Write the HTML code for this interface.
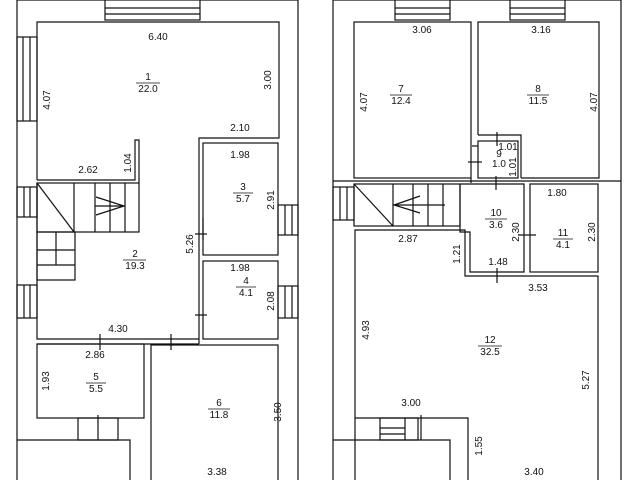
<!DOCTYPE html>
<html><head><meta charset="utf-8"><style>
html,body{margin:0;padding:0;background:#fff}
svg{display:block}
text{font-family:"Liberation Sans",sans-serif;font-size:10px;fill:#111}
</style></head><body>
<svg width="640" height="480" viewBox="0 0 640 480" xmlns="http://www.w3.org/2000/svg">
<g fill="none" stroke="#111" stroke-width="1.2">
<!-- LEFT PLAN -->
<polyline points="17,480 17,0"/>
<polyline points="298,0 298,480"/>
<line x1="17" y1="0" x2="105" y2="0"/>
<line x1="200" y1="0" x2="298" y2="0"/>
<rect x="105" y="0" width="95" height="20"/>
<line x1="105" y1="8" x2="200" y2="8"/><line x1="105" y1="14" x2="200" y2="14"/>
<rect x="17" y="37" width="20" height="84"/>
<line x1="23" y1="37" x2="23" y2="121"/><line x1="30" y1="37" x2="30" y2="121"/>
<polyline points="37,180 37,22 279,22 279,138 199,138 199,300"/>
<polyline points="37,180 135,180 135,140 139,140 139,183"/>
<rect x="203" y="143" width="75" height="112"/>
<rect x="203" y="261" width="75" height="78"/>
<rect x="278" y="205" width="20" height="30"/><line x1="285" y1="205" x2="285" y2="235"/><line x1="292" y1="205" x2="292" y2="235"/>
<rect x="278" y="286" width="20" height="32"/><line x1="285" y1="286" x2="285" y2="318"/><line x1="292" y1="286" x2="292" y2="318"/>
<polyline points="37,183 37,339 199,339"/>
<line x1="37" y1="344" x2="199" y2="344"/>
<line x1="199" y1="300" x2="199" y2="344"/>
<rect x="37" y="183" width="102" height="49"/>
<line x1="37" y1="183" x2="74" y2="232"/>
<line x1="74" y1="183" x2="74" y2="232"/><line x1="95" y1="183" x2="95" y2="232"/><line x1="110" y1="183" x2="110" y2="232"/><line x1="125" y1="183" x2="125" y2="232"/>
<polyline points="96,197 124,206 96,215"/><line x1="95" y1="206" x2="124" y2="206"/>
<rect x="37" y="232" width="38" height="48"/>
<line x1="37" y1="250" x2="75" y2="250"/><line x1="37" y1="265" x2="75" y2="265"/><line x1="56" y1="232" x2="56" y2="265"/>
<rect x="17" y="187" width="20" height="30"/><line x1="24" y1="187" x2="24" y2="217"/><line x1="30" y1="187" x2="30" y2="217"/>
<rect x="17" y="285" width="20" height="33"/><line x1="24" y1="285" x2="24" y2="318"/><line x1="30" y1="285" x2="30" y2="318"/>
<rect x="37" y="344" width="107" height="74"/>
<rect x="151" y="345" width="127" height="140"/>
<rect x="78" y="418" width="40" height="22"/>
<polyline points="17,440 130,440 130,480"/>
<line x1="100" y1="334" x2="100" y2="350"/><line x1="171" y1="334" x2="171" y2="350"/>
<line x1="195" y1="315" x2="207" y2="315"/><line x1="203" y1="218" x2="203" y2="240"/><line x1="195" y1="234" x2="207" y2="234"/>
<line x1="98" y1="415" x2="98" y2="440"/>

<!-- RIGHT PLAN -->
<line x1="333" y1="0" x2="333" y2="480"/>
<line x1="621" y1="0" x2="621" y2="480"/>
<line x1="333" y1="0" x2="395" y2="0"/><line x1="450" y1="0" x2="510" y2="0"/><line x1="565" y1="0" x2="621" y2="0"/>
<rect x="395" y="0" width="55" height="20"/><line x1="395" y1="8" x2="450" y2="8"/><line x1="395" y1="14" x2="450" y2="14"/>
<rect x="510" y="0" width="55" height="20"/><line x1="510" y1="8" x2="565" y2="8"/><line x1="510" y1="14" x2="565" y2="14"/>
<rect x="354" y="22" width="117" height="156"/>
<polyline points="478,135 478,22 599,22 599,178 521,178"/>
<polyline points="478,135 521,135 521,178"/>
<rect x="478" y="141" width="40" height="37"/>
<line x1="472" y1="146" x2="478" y2="146"/><line x1="471" y1="178" x2="471" y2="183"/>
<line x1="333" y1="181" x2="621" y2="181"/>
<rect x="354" y="184" width="106" height="42"/>
<line x1="354" y1="184" x2="393" y2="226"/>
<line x1="393" y1="184" x2="393" y2="226"/><line x1="413" y1="184" x2="413" y2="226"/><line x1="428" y1="184" x2="428" y2="226"/><line x1="443" y1="184" x2="443" y2="226"/>
<polyline points="420,196 394,205 420,213"/><line x1="394" y1="205" x2="445" y2="205"/>
<rect x="333" y="187" width="21" height="33"/><line x1="340" y1="187" x2="340" y2="220"/><line x1="347" y1="187" x2="347" y2="220"/>
<polyline points="460,184 524,184 524,272 470,272 470,232 460,232 460,184"/>
<rect x="530" y="184" width="68" height="88"/>
<polyline points="355,480 355,230 465,230 465,276 598,276 598,480"/>
<polyline points="355,418 468,418 468,480"/>
<rect x="380" y="418" width="38" height="22"/><line x1="380" y1="428" x2="405" y2="428"/><line x1="380" y1="434" x2="405" y2="434"/><line x1="405" y1="418" x2="405" y2="440"/>
<polyline points="333,440 450,440 450,480"/>
<line x1="496" y1="176" x2="496" y2="190"/><line x1="497" y1="268" x2="497" y2="283"/>
<line x1="468" y1="162" x2="482" y2="162"/><line x1="497" y1="132" x2="497" y2="146"/>
<line x1="518" y1="235" x2="536" y2="235"/><line x1="421" y1="415" x2="421" y2="440"/>
</g>
<g text-anchor="middle">
<text x="158" y="40">6.40</text>
<text x="148" y="80">1</text><text x="148" y="92">22.0</text><line x1="136" y1="83" x2="160" y2="83" stroke="#111" stroke-width="0.8"/>
<text x="240" y="131">2.10</text><text x="88" y="173">2.62</text>
<text x="240" y="158">1.98</text>
<text x="243" y="190">3</text><text x="243" y="202">5.7</text><line x1="233" y1="193" x2="253" y2="193" stroke="#111" stroke-width="0.8"/>
<text x="135" y="257">2</text><text x="135" y="269">19.3</text><line x1="123" y1="260" x2="146" y2="260" stroke="#111" stroke-width="0.8"/>
<text x="240" y="271">1.98</text>
<text x="246" y="284">4</text><text x="246" y="296">4.1</text><line x1="236" y1="287" x2="256" y2="287" stroke="#111" stroke-width="0.8"/>
<text x="118" y="332">4.30</text><text x="95" y="358">2.86</text>
<text x="96" y="380">5</text><text x="96" y="392">5.5</text><line x1="86" y1="383" x2="106" y2="383" stroke="#111" stroke-width="0.8"/>
<text x="219" y="406">6</text><text x="219" y="418">11.8</text><line x1="208" y1="409" x2="230" y2="409" stroke="#111" stroke-width="0.8"/>
<text x="217" y="475">3.38</text>
<text x="422" y="33">3.06</text><text x="541" y="33">3.16</text>
<text x="401" y="92">7</text><text x="401" y="104">12.4</text><line x1="390" y1="95" x2="412" y2="95" stroke="#111" stroke-width="0.8"/>
<text x="538" y="92">8</text><text x="538" y="104">11.5</text><line x1="527" y1="95" x2="549" y2="95" stroke="#111" stroke-width="0.8"/>
<text x="499" y="157" font-size="9">9</text><text x="499" y="167" font-size="9">1.0</text>
<text x="508" y="150" font-size="9">1.01</text>
<text x="557" y="196">1.80</text>
<text x="496" y="216">10</text><text x="496" y="228">3.6</text><line x1="485" y1="219" x2="507" y2="219" stroke="#111" stroke-width="0.8"/>
<text x="563" y="236">11</text><text x="563" y="248">4.1</text><line x1="553" y1="239" x2="573" y2="239" stroke="#111" stroke-width="0.8"/>
<text x="408" y="242">2.87</text><text x="498" y="265">1.48</text><text x="538" y="291">3.53</text>
<text x="490" y="343">12</text><text x="490" y="355">32.5</text><line x1="478" y1="346" x2="502" y2="346" stroke="#111" stroke-width="0.8"/>
<text x="411" y="406">3.00</text><text x="534" y="475">3.40</text>
</g>
<g text-anchor="middle">
<text transform="translate(50,100) rotate(-90)">4.07</text>
<text transform="translate(271,80) rotate(-90)">3.00</text>
<text transform="translate(131,163) rotate(-90)">1.04</text>
<text transform="translate(193,244) rotate(-90)">5.26</text>
<text transform="translate(274,200) rotate(-90)">2.91</text>
<text transform="translate(274,301) rotate(-90)">2.08</text>
<text transform="translate(49,381) rotate(-90)">1.93</text>
<text transform="translate(281,412) rotate(-90)">3.50</text>
<text transform="translate(367,102) rotate(-90)">4.07</text>
<text transform="translate(597,102) rotate(-90)">4.07</text>
<text transform="translate(516,167) rotate(-90)" font-size="9">1.01</text>
<text transform="translate(519,232) rotate(-90)">2.30</text>
<text transform="translate(595,232) rotate(-90)">2.30</text>
<text transform="translate(460,254) rotate(-90)">1.21</text>
<text transform="translate(369,330) rotate(-90)">4.93</text>
<text transform="translate(589,380) rotate(-90)">5.27</text>
<text transform="translate(482,446) rotate(-90)">1.55</text>
</g>
</svg>
</body></html>
